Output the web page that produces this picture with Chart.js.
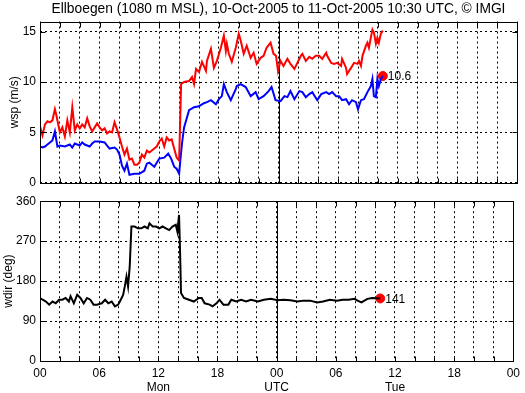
<!DOCTYPE html>
<html>
<head>
<meta charset="utf-8">
<script src="https://cdn.jsdelivr.net/npm/chart.js@4/dist/chart.umd.min.js"></script>
<style>
  html, body { margin:0; padding:0; background:#fff; }
  #wrap { position:relative; width:525px; height:393px; }
  .pane { position:absolute; left:0; width:525px; }
  #top { top:0; height:194px; z-index:2; }
  #bot { top:190px; height:203px; z-index:1; }
</style>
</head>
<body>
<div id="wrap">
  <div class="pane" id="top"><canvas id="wspChart" width="525" height="194"></canvas></div>
  <div class="pane" id="bot"><canvas id="wdirChart" width="525" height="203"></canvas></div>
</div>
<script>
/* Ellboegen station plot: wind speed + direction, hours since 10-Oct-2005 00 UTC */

const TITLE = 'Ellboegen (1080 m MSL), 10-Oct-2005 to 11-Oct-2005 10:30 UTC, \u00a9 IMGI';

const gustHours = [0,0.25,0.5,0.75,1,1.25,1.5,1.67,1.75,2,2.25,2.5,2.75,3,3.25,3.5,3.75,4,4.25,4.5,4.75,5,5.25,5.5,5.75,6,6.25,6.5,6.75,7,7.25,7.5,7.75,8,8.25,8.5,8.75,9,9.25,9.5,9.75,10,10.25,10.5,10.75,11,11.25,11.5,11.75,12,12.25,12.5,12.75,13,13.25,13.5,13.75,14,14.2,14.5,15,15.3,15.5,15.7,16,16.3,16.7,16.8,17.2,17.5,17.8,18.2,18.5,18.7,18.8,19,19.3,19.7,20,20.2,20.5,20.8,21.2,21.5,21.8,22.2,22.5,22.8,23.2,23.5,23.75,23.95,24.2,24.5,24.9,25.2,25.6,25.9,26.25,26.4,26.75,27.1,27.4,27.75,28.1,28.4,28.8,28.9,29.3,29.6,29.9,30.3,30.4,30.8,30.9,31.3,31.6,31.95,32.1,32.3,32.45,32.8,32.95,33.1,33.45,33.6,33.8,33.95,34.1,34.3,34.5];
const gustValues = [5.6,4.7,5.8,6.1,6.0,6.2,7.3,6.6,6.2,5.0,5.5,4.6,6.2,5.0,7.5,5.2,5.8,5.4,5.8,5.5,6.4,5.6,5.1,5.5,5.9,5.5,5.2,5.4,4.9,5.1,5.0,6.0,5.3,4.5,3.6,2.8,3.4,2.3,2.4,1.8,1.8,2.0,2.8,2.5,3.2,3.0,3.2,3.4,3.6,4.1,4.4,3.6,4.5,4.2,4.3,3.4,2.5,2.2,9.8,10.0,10.1,10.5,9.8,11.3,11.0,12.0,11.1,12.1,13.3,11.4,12.1,13.4,14.6,13.1,13.8,12.8,12.0,13.4,14.8,14.1,12.8,13.6,12.4,12.9,11.8,12.4,12.6,13.4,13.9,12.8,12.6,11.1,12.1,11.6,12.3,11.8,11.3,11.9,12.6,12.8,12.1,12.5,12.3,12.6,12.6,12.3,12.9,12.6,11.9,11.8,11.9,11.6,12.3,11.4,10.8,11.4,11.9,11.8,12.1,11.6,12.6,13.6,13.9,13.4,15.2,14.9,13.8,14.4,13.9,14.8,15.1];

const meanHours = [0,0.25,0.5,0.75,1,1.25,1.5,1.75,2,2.5,3,3.25,3.5,4,4.25,4.5,5,5.25,5.5,6,6.5,6.75,7,7.5,7.75,8,8.25,8.5,8.75,9,9.5,10,10.5,10.75,11,11.5,12,12.5,12.9,13.2,13.5,13.75,14,14.1,14.3,14.5,15,15.5,16,16.5,16.8,17.2,17.7,18,18.3,18.5,18.8,19.2,19.7,19.8,20.2,20.7,21.2,21.7,22,22.5,23,23.3,23.7,24.2,24.6,24.9,25.2,25.6,26.1,26.4,26.75,27.1,27.4,27.9,28.3,28.8,29.1,29.4,29.8,30.1,30.4,30.8,31.1,31.4,31.8,32,32.3,32.6,32.95,33.3,33.45,33.6,33.8,33.95,34.1,34.3,34.5];
const meanValues = [3.6,3.5,3.6,3.8,4.0,4.2,5.1,3.6,3.7,3.6,3.8,3.5,3.9,3.7,4.0,3.8,3.6,3.9,4.1,4.1,4.0,3.7,3.4,3.5,3.3,2.8,1.7,1.2,1.9,0.8,0.9,0.9,1.2,1.9,2.0,1.6,2.4,2.5,2.9,2.4,1.6,1.4,0.9,2.0,4.0,5.5,7.2,7.5,7.6,7.9,8.0,8.2,7.8,8.3,8.6,9.8,9.0,8.2,9.3,9.6,9.8,9.5,8.6,9.0,8.3,8.6,9.1,9.5,8.2,8.1,8.6,8.5,9.1,8.3,9.1,9.0,8.5,8.8,9.0,8.2,8.8,9.0,8.8,9.0,8.6,8.6,8.2,8.3,7.8,8.2,8.0,7.3,8.2,8.3,9.0,9.6,10.3,8.6,8.5,10.3,9.6,10.3,10.6];

const dirHours = [0,0.27,0.6,0.93,1.27,1.6,1.93,2.27,2.6,2.93,3.1,3.43,3.77,4.1,4.43,4.77,5.1,5.43,5.77,6.27,6.6,6.93,7.27,7.6,7.93,8.1,8.43,8.6,8.77,8.93,9.1,9.27,9.6,9.93,10.27,10.6,10.93,11.1,11.43,11.77,12.1,12.43,12.77,13.1,13.43,13.77,13.93,14.1,14.2,14.3,14.6,15.1,15.6,16.1,16.4,16.7,17.2,17.5,17.9,18.2,18.6,19.1,19.4,19.9,20.4,20.9,21.4,22.1,22.7,23.4,24.1,24.7,25.4,26.1,26.7,27.4,28.1,28.7,29.4,30.1,30.7,31.3,31.9,32.2,32.6,32.9,33.2,33.7,34.5];
const dirValues = [142,138,134,127,134,130,138,138,142,134,146,130,149,142,130,142,138,127,127,130,138,130,134,123,127,134,149,168,190,168,213,303,303,299,299,303,299,310,303,303,299,303,299,295,303,307,292,329,250,153,142,138,134,142,142,130,127,123,130,138,127,127,138,134,138,134,138,134,138,140,137,138,137,134,136,136,132,134,138,136,138,138,140,136,132,136,140,142,141];

const hourTicks   = [0,6,12,18,24,30,36,42,48];
const hourLabels  = ['00','06','12','18','00','06','12','18','00'];
const dayTickHours = [12,24,36];
const dayTickNames = ['Mon','UTC','Tue'];

Chart.defaults.font.family = '"Liberation Sans", Arial, Helvetica, sans-serif';
Chart.defaults.font.size = 12;
Chart.defaults.color = '#000';

const toPoints = (xs, ys) => xs.map((h, i) => ({ x:h, y:ys[i] }));
const lastPoint = (xs, ys) => [{ x:xs[xs.length-1], y:ys[ys.length-1] }];

// MATLAB-ish box, inward ticks and the midnight line
const boxPlugin = {
  id:'box',
  beforeDatasetsDraw(chart) {
    const { ctx, chartArea:a, scales:{ x } } = chart;
    const px = Math.round(x.getPixelForValue(24)) + 0.5;
    ctx.save();
    ctx.strokeStyle = '#000'; ctx.lineWidth = 1;
    ctx.beginPath(); ctx.moveTo(px, a.top); ctx.lineTo(px, a.bottom); ctx.stroke();
    ctx.restore();
  },
  afterDatasetsDraw(chart) {
    const { ctx, chartArea:a, scales:{ x, y } } = chart;
    const L = Math.round(a.left) + 0.5, R = Math.round(a.right) + 0.5;
    const T = Math.round(a.top) + 0.5, B = Math.round(a.bottom) + 0.5;
    ctx.save();
    ctx.strokeStyle = '#000'; ctx.lineWidth = 1;
    ctx.strokeRect(L, T, R - L, B - T);
    ctx.beginPath();
    x.ticks.forEach(t => {
      const px = Math.round(x.getPixelForValue(t.value)) + 0.5;
      ctx.moveTo(px, T); ctx.lineTo(px, T + 5);
      ctx.moveTo(px, B); ctx.lineTo(px, B - 5);
    });
    y.ticks.forEach(t => {
      const py = Math.round(y.getPixelForValue(t.value)) + 0.5;
      ctx.moveTo(L, py); ctx.lineTo(L + 5, py);
      ctx.moveTo(R, py); ctx.lineTo(R - 5, py);
    });
    ctx.stroke();
    ctx.restore();
  }
};

// value label next to the final red dot
const endLabelPlugin = {
  id:'endLabel',
  afterDatasetsDraw(chart) {
    const { ctx } = chart;
    chart.data.datasets.forEach((ds, i) => {
      if (!ds.endLabel) return;
      const el = chart.getDatasetMeta(i).data[0];
      ctx.save();
      ctx.fillStyle = '#000';
      ctx.font = '12px "Liberation Sans", Arial, sans-serif';
      ctx.textBaseline = 'middle';
      ctx.fillText(ds.endLabel(ds.data[0].y), el.x + 5, el.y + 1);
      ctx.restore();
    });
  }
};

function xScale(showLabels) {
  return {
    type:'linear', min:0, max:48,
    afterBuildTicks: s => { s.ticks = []; for (let h = 0; h <= 48; h += 2) s.ticks.push({ value:h }); },
    ticks:{
      display:showLabels, padding:5, autoSkip:false, maxRotation:0,
      callback: v => {
        const k = hourTicks.indexOf(v);
        if (k < 0) return '';
        const d = dayTickHours.indexOf(v);
        return d < 0 ? hourLabels[k] : [hourLabels[k], dayTickNames[d]];
      }
    },
    grid:{ color:'#000', lineWidth:1, drawTicks:false },
    border:{ display:false, dash:[2,3] },
    afterFit: s => { s.height = showLabels ? 32 : 0; }
  };
}

function yScale(max, step, title, titlePad) {
  return {
    min:0, max:max,
    ticks:{ stepSize:step, includeBounds:false, padding:4 },
    grid:{ color:'#000', lineWidth:1, drawTicks:false },
    border:{ display:false, dash:[2,3] },
    title:{ display:true, text:title, font:{ size:12 }, padding:{ top:titlePad, bottom:0 } },
    afterFit: s => { s.width = 40; }
  };
}

const commonPlugins = { legend:{ display:false }, tooltip:{ enabled:false } };

new Chart(document.getElementById('wspChart'), {
  type:'line',
  data:{ datasets:[
    { data:toPoints(gustHours, gustValues), borderColor:'#ff0000', borderWidth:2, pointRadius:0 },
    { data:toPoints(meanHours, meanValues), borderColor:'#0000ff', borderWidth:2, pointRadius:0 },
    { data:lastPoint(meanHours, meanValues), showLine:false, pointRadius:4.5, pointBackgroundColor:'#ff0000',
      pointBorderColor:'#ff0000', endLabel: v => v.toFixed(1) }
  ]},
  options:{
    responsive:false, animation:false,
    layout:{ padding:{ left:0, right:8, top:0, bottom:0 } },
    scales:{ x:xScale(false), y:yScale(16, 5, 'wsp (m/s)', 7) },
    plugins:{ ...commonPlugins,
      title:{ display:true, text:TITLE, fullSize:false, color:'#000',
        font:{ size:13.8, weight:'normal' }, padding:{ top:1, bottom:4 } } }
  },
  plugins:[boxPlugin, endLabelPlugin]
});

new Chart(document.getElementById('wdirChart'), {
  type:'line',
  data:{ datasets:[
    { data:toPoints(dirHours, dirValues), borderColor:'#000', borderWidth:2, pointRadius:0 },
    { data:lastPoint(dirHours, dirValues), showLine:false, pointRadius:4.5, pointBackgroundColor:'#ff0000',
      pointBorderColor:'#ff0000', endLabel: v => String(Math.round(v)) }
  ]},
  options:{
    responsive:false, animation:false,
    layout:{ padding:{ left:0, right:8, top:10, bottom:0 } },
    scales:{ x:xScale(true), y:yScale(360, 90, 'wdir (deg)', 1) },
    plugins:commonPlugins
  },
  plugins:[boxPlugin, endLabelPlugin]
});
</script>
</body>
</html>
